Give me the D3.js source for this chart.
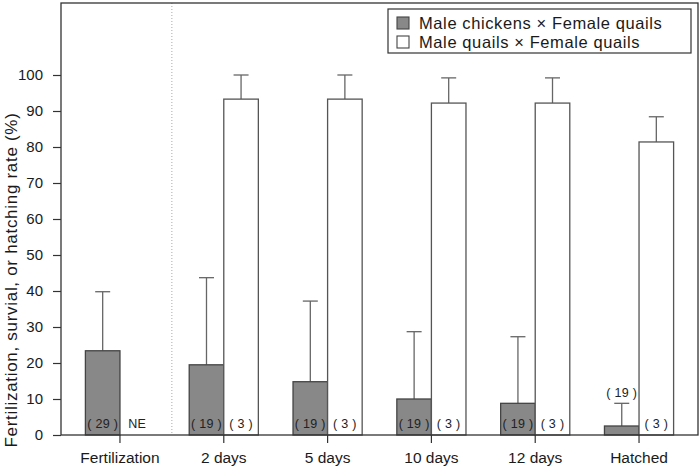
<!DOCTYPE html>
<html><head><meta charset="utf-8">
<script src="https://cdn.jsdelivr.net/npm/d3@7"></script>
<style>
body{margin:0;background:#fff;}
svg{display:block;font-family:"Liberation Sans",Arial,sans-serif;}
</style></head>
<body><svg id="c" width="700" height="467"></svg>
<script>
const categories = ["Fertilization","2 days","5 days","10 days","12 days","Hatched"];
const seriesNames = ["Male chickens × Female quails","Male quails × Female quails"];
const chickenMean = [23.4, 19.5, 14.8, 10.0, 8.8, 2.5];
const chickenUpper = [39.8, 43.7, 37.2, 28.7, 27.3, 8.8];
const quailMean = [null, 93.3, 93.3, 92.2, 92.2, 81.4];
const quailUpper = [null, 100, 100, 99.2, 99.2, 88.4];
const chickenN = ["( 29 )","( 19 )","( 19 )","( 19 )","( 19 )","( 19 )"];
const quailN = ["NE","( 3 )","( 3 )","( 3 )","( 3 )","( 3 )"];
const yTicks = [0,10,20,30,40,50,60,70,80,90,100];

const svg = d3.select("#c");
const L=61, R=698, T=3, B=435;
const x = d3.scaleBand().domain(categories).range([L,R]).paddingInner(0.334).paddingOuter(0.235);
const xs = d3.scaleBand().domain(seriesNames).range([0,x.bandwidth()]);
const y = d3.scaleLinear().domain([0,120]).range([B,T]);

const fills = ["#888888","#ffffff"];
const strokes = ["#444","#555"];

// dotted separator
const sepX = (x("Fertilization")+x.bandwidth()/2 + x("2 days")+x.bandwidth()/2)/2;
svg.append("line").attr("x1",sepX).attr("x2",sepX).attr("y1",T).attr("y2",B)
  .attr("stroke","#aaa").attr("stroke-width",1).attr("stroke-dasharray","1,2");

const data = [];
categories.forEach((c,i)=>{
  data.push({c, s:0, v:chickenMean[i], u:chickenUpper[i], n:chickenN[i]});
  data.push({c, s:1, v:quailMean[i], u:quailUpper[i], n:quailN[i]});
});
const bx = d => x(d.c)+xs(seriesNames[d.s]);
const bw = xs.bandwidth();

const bars = data.filter(d=>d.v!=null);
// error bars
svg.selectAll(".err").data(bars).enter().append("line")
  .attr("x1",d=>bx(d)+bw/2).attr("x2",d=>bx(d)+bw/2)
  .attr("y1",d=>y(d.v)).attr("y2",d=>y(d.u))
  .attr("stroke","#666").attr("stroke-width",1.3);
svg.selectAll(".cap").data(bars).enter().append("line")
  .attr("x1",d=>bx(d)+bw/2-7.5).attr("x2",d=>bx(d)+bw/2+7.5)
  .attr("y1",d=>y(d.u)).attr("y2",d=>y(d.u))
  .attr("stroke","#666").attr("stroke-width",1.3);
svg.selectAll(".bar").data(bars).enter().append("rect")
  .attr("x",d=>bx(d)).attr("width",bw)
  .attr("y",d=>y(d.v)).attr("height",d=>B-y(d.v))
  .attr("fill",d=>fills[d.s]).attr("stroke",d=>strokes[d.s]).attr("stroke-width",1.3);

// n labels
svg.selectAll(".nl").data(data).enter().append("text")
  .attr("x",d=>bx(d)+bw/2)
  .attr("y",d=> (d.c==="Hatched" && d.s===0) ? y(d.u)-6 : 428)
  .attr("text-anchor","middle").attr("font-size",12.5).attr("fill","#222")
  .attr("letter-spacing",0.3)
  .text(d=>d.n);

// frame
svg.append("rect").attr("x",L).attr("y",T).attr("width",R-L).attr("height",B-T)
  .attr("fill","none").attr("stroke","#333").attr("stroke-width",1.3);

// y axis
const ya = svg.append("g").attr("transform",`translate(${L},0)`)
  .call(d3.axisLeft(y).tickValues(yTicks).tickSize(8).tickPadding(10));
ya.select(".domain").remove();
ya.selectAll("line").attr("stroke","#333").attr("stroke-width",1.2);
ya.selectAll("text").attr("font-size",15).attr("fill","#1a1a1a").attr("font-family","Liberation Sans, Arial, sans-serif");

// x axis
const xa = svg.append("g").attr("transform",`translate(0,${B})`)
  .call(d3.axisBottom(x).tickSize(8).tickPadding(9));
xa.select(".domain").remove();
xa.selectAll("line").attr("stroke","#333").attr("stroke-width",1.2);
xa.selectAll("text").attr("font-size",15.5).attr("fill","#1a1a1a").attr("font-family","Liberation Sans, Arial, sans-serif");

// y label
svg.append("text").attr("transform","translate(17,280) rotate(-90)")
  .attr("text-anchor","middle").attr("font-size",17).attr("letter-spacing",0.7).attr("fill","#1a1a1a")
  .text("Fertilization, survial, or hatching rate (%)");

// legend
const lg = svg.append("g");
lg.append("rect").attr("x",388).attr("y",9).attr("width",303).attr("height",44)
  .attr("fill","#fff").attr("stroke","#333").attr("stroke-width",1.2);
seriesNames.forEach((s,i)=>{
  const yy = 23 + i*19;
  lg.append("rect").attr("x",397).attr("y",yy-6).attr("width",12).attr("height",12)
    .attr("fill",fills[i]).attr("stroke","#444").attr("stroke-width",1.1);
  lg.append("text").attr("x",419).attr("y",yy+6).attr("font-size",16.5).attr("letter-spacing",0.6).attr("fill","#1a1a1a").text(s);
});
</script></body></html>
